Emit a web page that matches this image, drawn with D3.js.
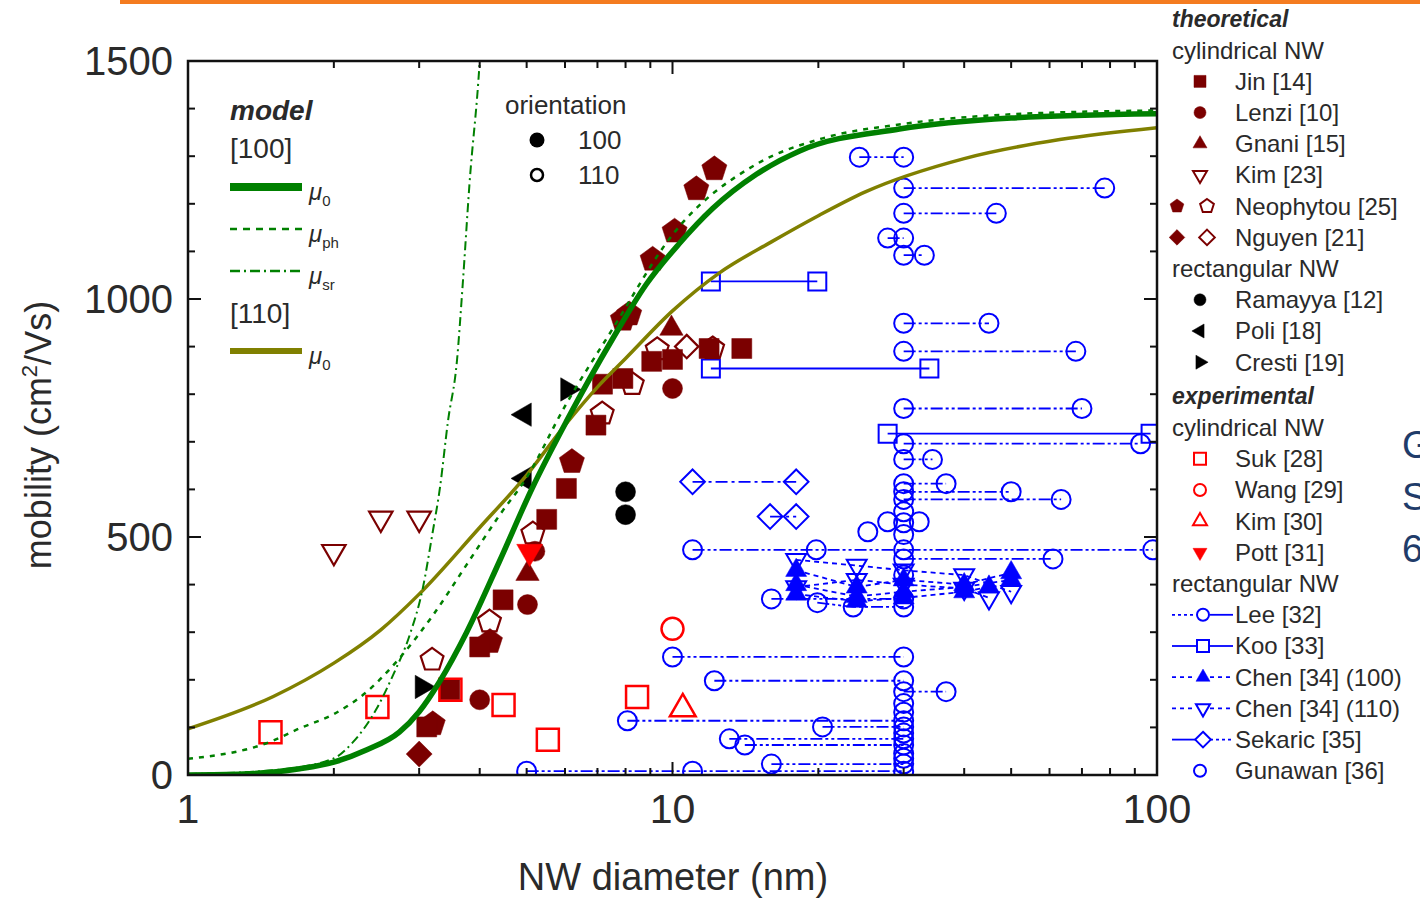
<!DOCTYPE html>
<html>
<head>
<meta charset="utf-8">
<script src="https://cdn.jsdelivr.net/npm/d3@7"></script>
<style>
  body { margin: 0; background: #fff; }
  svg { display: block; }
  text { font-family: "Liberation Sans", Arial, sans-serif; }
</style>
</head>
<body>
<svg id="chart" width="1420" height="900"></svg>
<script>
// ---- model curves [diameter nm, mobility] ----
const mu0_100 = [[1,0],[1.3,2],[1.7,13],[2,27],[2.34,53],[2.73,90],[3,133],[3.3,195],[3.76,300],[4.39,448],[5.13,602],[6.04,743],[7.53,917],[8.83,1031],[10.3,1115],[12.1,1190],[14.9,1262],[18.3,1311],[29.4,1357],[50,1380],[100,1389]];
const muph_100 = [[1,34],[1.48,70],[1.7,98],[2,128],[2.34,175],[2.73,245],[3.2,335],[3.76,442],[4.39,545],[5,625],[6,775],[7.5,935],[10,1135],[15,1285],[20,1335],[30,1368],[50,1388],[100,1396]];
const musr_100 = [[1,2],[1.5,10],[1.99,34],[2.19,69],[2.45,139],[2.65,210],[2.87,295],[3.05,391],[3.2,511],[3.31,602],[3.44,743],[3.59,870],[3.69,1031],[3.81,1241],[4.0,1500],[4.1,1700]];
const mu0_110 = [[1,97],[1.5,165],[2,235],[2.5,305],[3,380],[4,520],[5,630],[6,735],[7,815],[8,875],[10,975],[12.5,1055],[16,1120],[20,1175],[25,1225],[40,1295],[63,1335],[100,1360]];

// ---- theoretical, cylindrical ----
const jin = [[3.11,101],[3.47,179],[4.0,269],[4.47,368],[5.5,537],[6.04,602],[6.95,735],[7.17,821],[7.9,833],[9.06,869],[10.0,873],[11.9,896],[13.9,896]];
const lenzi = [[4.0,158],[5.02,358],[10.0,812],[5.2,470]];
const gnani = [[5.02,423],[9.95,938]];
const kim23 = [[2.0,469],[2.5,539],[3.0,539]];
const neoFilled = [[12.2,1273],[11.2,1231],[10.1,1142],[9.1,1083],[8.14,968],[7.9,957],[6.2,658],[4.2,280],[3.2,107]];
const neoOpen = [[3.19,242],[4.19,322],[5.15,507],[7.16,759],[8.26,821],[9.3,894],[12.1,896]];
const nguyenFilled = [[3.0,44]];
const nguyenOpen = [[10.7,900]];
// ---- theoretical, rectangular ----
const ramayya = [[8.0,595],[8.0,547]];
const poli = [[4.95,757],[4.95,623]];
const cresti = [[6.07,810],[3.04,185]];
// ---- experimental, cylindrical ----
const suk = [[1.48,90],[2.46,143],[3.48,179],[4.48,147],[5.53,74],[8.45,164]];
const wang = [[10,307]];
const kim30 = [[10.5,139]];
const pott = [[5.07,469]];
// ---- experimental, rectangular ----
const lee = [
  [[24.3,1298],[30,1298]], [[30,1233],[78,1233]], [[30,1180],[46.6,1180]],
  [[27.8,1128],[30,1128]], [[30,1092],[33.1,1092]], [[30,949],[45,949]],
  [[30,890],[68,890]], [[30,770],[70,770]], [[30,696],[92.5,696]],
  [[30,663],[34.4,663]], [[30,612],[36.7,612]], [[30,595],[50,595]],
  [[30,579],[63.4,579]], [[11,473],[19.8,473],[30,473],[98,473]], [[30,454],[61,454]],
  [[16,370],[30,370]], [[19.9,362],[23.6,353],[30,353]],
  [[10,248],[30,248]], [[12.2,198],[30,198]], [[30,175],[36.7,175]],
  [[8.07,114],[30,114]], [[20.4,101],[30,101]], [[13.1,76],[30,76]],
  [[14.1,63],[30,63]], [[16,23],[30,23]], [[5,8],[11,8],[30,8]]
];
const koo = [[[12,1037],[19.9,1037]], [[12,854],[33.9,854]], [[27.8,717],[97,717]]];
const chen100 = [
  [[18,430],[24,395],[30,410],[40,400],[50,425]],
  [[18,400],[24,375],[30,385],[40,395],[50,410]],
  [[18,380],[24,365],[30,372],[40,385],[45,395]]
];
const chen110 = [
  [[18,452],[24,440],[30,430],[40,420],[50,385]],
  [[18,395],[24,410],[30,400],[40,392],[45,372]]
];
const sekaric = [[[11,616],[18,616]], [[15.9,543],[18,543]]];
const gunawan = [[25.3,511],[27.8,532],[32.3,532],[30,505],[30,553],[30,530],[30,420],[30,150],[30,132],[30,45],[30,35],[30,88]];

const xTicks = [1, 10, 100];
const yTicks = [0, 500, 1000, 1500];

const C = { maroon: "#7b0000", red: "#ff0000", blue: "#0000ff", green: "#008000", olive: "#808000", txt: "#2a2a2a" };

const svg = d3.select("#chart");
const x = d3.scaleLog().domain([1, 100]).range([188, 1157]);
const y = d3.scaleLinear().domain([0, 1500]).range([775, 61]);

// orange slide rule at top
svg.append("rect").attr("x", 120).attr("y", 0).attr("width", 1300).attr("height", 4).attr("fill", "#f47b20");

svg.append("clipPath").attr("id", "plotclip")
  .append("rect").attr("x", 188).attr("y", 61).attr("width", 969).attr("height", 714);

const plot = svg.append("g").attr("clip-path", "url(#plotclip)");

// marker shapes
function poly(n, r, rot) {
  const pts = d3.range(n).map(i => {
    const a = rot + i * 2 * Math.PI / n;
    return [r * Math.cos(a), r * Math.sin(a)];
  });
  return "M" + pts.map(p => p[0].toFixed(2) + "," + p[1].toFixed(2)).join("L") + "Z";
}
const shapes = {
  square: s => `M${-s},${-s}H${s}V${s}H${-s}Z`,
  circle: s => d3.symbol(d3.symbolCircle, Math.PI * s * s)(),
  up: s => poly(3, s * 1.35, -Math.PI / 2),
  down: s => poly(3, s * 1.35, Math.PI / 2),
  left: s => poly(3, s * 1.35, Math.PI),
  right: s => poly(3, s * 1.35, 0),
  pentagon: s => poly(5, s * 1.2, -Math.PI / 2),
  diamond: s => poly(4, s * 1.3, -Math.PI / 2)
};

function drawPts(g, data, shape, s, filled, color, sw) {
  g.append("g").selectAll("path")
    .data(data)
    .join("path")
    .attr("transform", d => `translate(${x(d[0])},${y(d[1])})`)
    .attr("d", shapes[shape](s))
    .attr("fill", filled ? color : "none")
    .attr("stroke", color)
    .attr("stroke-width", filled ? 0.5 : sw || 2);
}

const line = d3.line().x(d => x(d[0])).y(d => y(d[1]));
function drawSeries(g, series, dash, shape, s, filled) {
  series.forEach(ser => {
    g.append("path").datum(ser)
      .attr("d", line)
      .attr("fill", "none")
      .attr("stroke", C.blue)
      .attr("stroke-width", 1.8)
      .attr("stroke-dasharray", dash);
    if (shape) drawPts(g, ser, shape, s, filled, C.blue, 2);
  });
}

// experimental rectangular (blue)
drawSeries(plot, lee, "12,3,3,3,3,3", "circle", 9.5, false);
drawSeries(plot, koo, null, "square", 9, false);
drawSeries(plot, sekaric, "12,4,3,4", "diamond", 9.5, false);
drawSeries(plot, chen110, "5,4", "down", 8.5, false);
drawSeries(plot, chen100, "5,4", "up", 9, true);
drawPts(plot, gunawan, "circle", 9.5, false, C.blue, 2);

// theoretical points
drawPts(plot, kim23, "down", 10, false, C.maroon, 2.2);
drawPts(plot, neoOpen, "pentagon", 10, false, C.maroon, 2.2);
drawPts(plot, nguyenOpen, "diamond", 9, false, C.maroon, 2.2);
drawPts(plot, neoFilled, "pentagon", 11, true, C.maroon);
drawPts(plot, nguyenFilled, "diamond", 10, true, C.maroon);
drawPts(plot, jin, "square", 10, true, C.maroon);
drawPts(plot, lenzi, "circle", 10, true, C.maroon);
drawPts(plot, gnani, "up", 10, true, C.maroon);
drawPts(plot, ramayya, "circle", 10, true, "#000");
drawPts(plot, poli, "left", 10, true, "#000");
drawPts(plot, cresti, "right", 10, true, "#000");

// experimental cylindrical (red)
drawPts(plot, suk, "square", 11, false, C.red, 2.5);
drawPts(plot, wang, "circle", 11, false, C.red, 2.5);
drawPts(plot, kim30, "up", 11, false, C.red, 2.5);
drawPts(plot, pott, "down", 11, true, C.red);

// model curves
const curve = d3.line().x(d => x(d[0])).y(d => y(d[1])).curve(d3.curveMonotoneX);
plot.append("path").datum(mu0_110).attr("d", curve)
  .attr("fill", "none").attr("stroke", C.olive).attr("stroke-width", 3.5);
plot.append("path").datum(musr_100).attr("d", curve)
  .attr("fill", "none").attr("stroke", C.green).attr("stroke-width", 2)
  .attr("stroke-dasharray", "9,4,2,4");
plot.append("path").datum(muph_100).attr("d", curve)
  .attr("fill", "none").attr("stroke", C.green).attr("stroke-width", 2.5)
  .attr("stroke-dasharray", "5,6");
plot.append("path").datum(mu0_100).attr("d", curve)
  .attr("fill", "none").attr("stroke", C.green).attr("stroke-width", 5.5);

// frame + inward ticks
const ax = svg.append("g").attr("stroke", "#111");
ax.append("rect").attr("x", 188).attr("y", 61).attr("width", 969).attr("height", 714)
  .attr("fill", "none").attr("stroke-width", 2.5);
const xMinor = [];
[1, 10].forEach(dec => d3.range(2, 10).forEach(k => xMinor.push(dec * k)));
xMinor.forEach(v => {
  ax.append("line").attr("x1", x(v)).attr("x2", x(v)).attr("y1", 775).attr("y2", 768).attr("stroke-width", 2);
  ax.append("line").attr("x1", x(v)).attr("x2", x(v)).attr("y1", 61).attr("y2", 68).attr("stroke-width", 2);
});
xTicks.forEach(v => {
  ax.append("line").attr("x1", x(v)).attr("x2", x(v)).attr("y1", 775).attr("y2", 762).attr("stroke-width", 2);
  ax.append("line").attr("x1", x(v)).attr("x2", x(v)).attr("y1", 61).attr("y2", 74).attr("stroke-width", 2);
});
d3.range(0, 1501, 100).forEach(v => {
  const len = v % 500 === 0 ? 13 : 7;
  ax.append("line").attr("x1", 188).attr("x2", 188 + len).attr("y1", y(v)).attr("y2", y(v)).attr("stroke-width", 2);
  ax.append("line").attr("x1", 1157).attr("x2", 1157 - len).attr("y1", y(v)).attr("y2", y(v)).attr("stroke-width", 2);
});

// tick labels
svg.append("g").selectAll("text").data(yTicks).join("text")
  .attr("x", 173).attr("y", d => y(d)).attr("dy", "0.36em")
  .attr("text-anchor", "end").attr("font-size", 40).attr("fill", C.txt)
  .text(d => d);
svg.append("g").selectAll("text").data(xTicks).join("text")
  .attr("x", d => x(d)).attr("y", 823)
  .attr("text-anchor", "middle").attr("font-size", 41).attr("fill", C.txt)
  .text(d => d);

// axis titles
svg.append("text").attr("x", 673).attr("y", 890).attr("text-anchor", "middle")
  .attr("font-size", 38).attr("fill", C.txt).text("NW diameter (nm)");
const yl = svg.append("text").attr("transform", "translate(51,435) rotate(-90)")
  .attr("text-anchor", "middle").attr("font-size", 36).attr("fill", C.txt);
yl.append("tspan").text("mobility (cm");
yl.append("tspan").attr("font-size", 22).attr("dy", -14).text("2");
yl.append("tspan").attr("dy", 14).text("/Vs)");

// ---- model legend inside plot ----
const ml = svg.append("g");
ml.append("text").attr("x", 230).attr("y", 120).attr("font-size", 28).attr("font-weight", "bold")
  .attr("font-style", "italic").attr("fill", C.txt).text("model");
ml.append("text").attr("x", 230).attr("y", 158).attr("font-size", 28).attr("fill", C.txt).text("[100]");
ml.append("text").attr("x", 230).attr("y", 323).attr("font-size", 28).attr("fill", C.txt).text("[110]");
const modelKeys = [
  { yy: 187, color: C.green, w: 8, dash: null, sub: "0" },
  { yy: 229, color: C.green, w: 2.5, dash: "7,6", sub: "ph" },
  { yy: 271, color: C.green, w: 2.5, dash: "10,4,2,4", sub: "sr" },
  { yy: 351, color: C.olive, w: 6, dash: null, sub: "0" }
];
modelKeys.forEach(k => {
  ml.append("line").attr("x1", 230).attr("x2", 302).attr("y1", k.yy).attr("y2", k.yy)
    .attr("stroke", k.color).attr("stroke-width", k.w).attr("stroke-dasharray", k.dash);
  const t = ml.append("text").attr("x", 309).attr("y", k.yy + 13).attr("font-size", 24)
    .attr("font-style", "italic").attr("fill", C.txt);
  t.append("tspan").text("μ");
  t.append("tspan").attr("font-size", 15).attr("dy", 6).attr("font-style", "normal").text(k.sub);
});

// orientation key
svg.append("text").attr("x", 505).attr("y", 114).attr("font-size", 26).attr("fill", C.txt).text("orientation");
svg.append("circle").attr("cx", 537).attr("cy", 140).attr("r", 7.5).attr("fill", "#000");
svg.append("circle").attr("cx", 537).attr("cy", 175).attr("r", 6).attr("fill", "none").attr("stroke", "#000").attr("stroke-width", 2.5);
svg.append("text").attr("x", 578).attr("y", 149).attr("font-size", 26).attr("fill", C.txt).text("100");
svg.append("text").attr("x", 578).attr("y", 184).attr("font-size", 26).attr("fill", C.txt).text("110");

// ---- right legend ----
const legendRows = [
  { t: "theoretical", head: true },
  { t: "cylindrical NW", sub: true },
  { t: "Jin [14]", m: [["square", true, C.maroon]] },
  { t: "Lenzi [10]", m: [["circle", true, C.maroon]] },
  { t: "Gnani [15]", m: [["up", true, C.maroon]] },
  { t: "Kim [23]", m: [["down", false, C.maroon]] },
  { t: "Neophytou [25]", m: [["pentagon", true, C.maroon, 1177], ["pentagon", false, C.maroon, 1207]] },
  { t: "Nguyen [21]", m: [["diamond", true, C.maroon, 1177], ["diamond", false, C.maroon, 1207]] },
  { t: "rectangular NW", sub: true },
  { t: "Ramayya [12]", m: [["circle", true, "#000"]] },
  { t: "Poli [18]", m: [["left", true, "#000"]] },
  { t: "Cresti [19]", m: [["right", true, "#000"]] },
  { t: "experimental", head: true },
  { t: "cylindrical NW", sub: true },
  { t: "Suk [28]", m: [["square", false, C.red]] },
  { t: "Wang [29]", m: [["circle", false, C.red]] },
  { t: "Kim [30]", m: [["up", false, C.red]] },
  { t: "Pott [31]", m: [["down", true, C.red]] },
  { t: "rectangular NW", sub: true },
  { t: "Lee [32]", m: [["circle", false, C.blue, 1203]], ln: ["3,3", null] },
  { t: "Koo [33]", m: [["square", false, C.blue, 1203]], ln: [null, null] },
  { t: "Chen [34] (100)", m: [["up", true, C.blue, 1203]], ln: ["4,4", "4,4"] },
  { t: "Chen [34] (110)", m: [["down", false, C.blue, 1203]], ln: ["4,4", "4,4"] },
  { t: "Sekaric [35]", m: [["diamond", false, C.blue, 1203]], ln: [null, "3,3"] },
  { t: "Gunawan [36]", m: [["circle", false, C.blue]] }
];
const lg = svg.append("g");
legendRows.forEach((r, i) => {
  const yy = 19 + i * 31.2 + (i >= 12 ? 3 : 0);
  if (r.head || r.sub) {
    lg.append("text").attr("x", 1172).attr("y", yy).attr("dy", "0.35em")
      .attr("font-size", r.head ? 23 : 24).attr("fill", C.txt)
      .attr("font-weight", r.head ? "bold" : null).attr("font-style", r.head ? "italic" : null)
      .text(r.t);
    return;
  }
  if (r.ln) {
    [[1172, 1196, r.ln[0]], [1210, 1233, r.ln[1]]].forEach(seg => {
      lg.append("line").attr("x1", seg[0]).attr("x2", seg[1]).attr("y1", yy).attr("y2", yy)
        .attr("stroke", C.blue).attr("stroke-width", 1.8).attr("stroke-dasharray", seg[2]);
    });
  }
  r.m.forEach(m => {
    lg.append("path").attr("transform", `translate(${m[3] || 1200},${yy})`)
      .attr("d", shapes[m[0]](6))
      .attr("fill", m[1] ? m[2] : "#fff").attr("stroke", m[2]).attr("stroke-width", m[1] ? 0.5 : 2);
  });
  lg.append("text").attr("x", 1235).attr("y", yy).attr("dy", "0.35em")
    .attr("font-size", 24).attr("fill", C.txt).text(r.t);
});

// cut-off slide text on the right edge
["G", "S", "6"].forEach((c, i) => {
  svg.append("text").attr("x", 1402).attr("y", 458 + i * 52).attr("font-size", 38)
    .attr("font-family", "'Open Sans', 'Noto Sans', sans-serif").attr("fill", "#1f3c6a").text(c);
});
</script>
</body>
</html>
